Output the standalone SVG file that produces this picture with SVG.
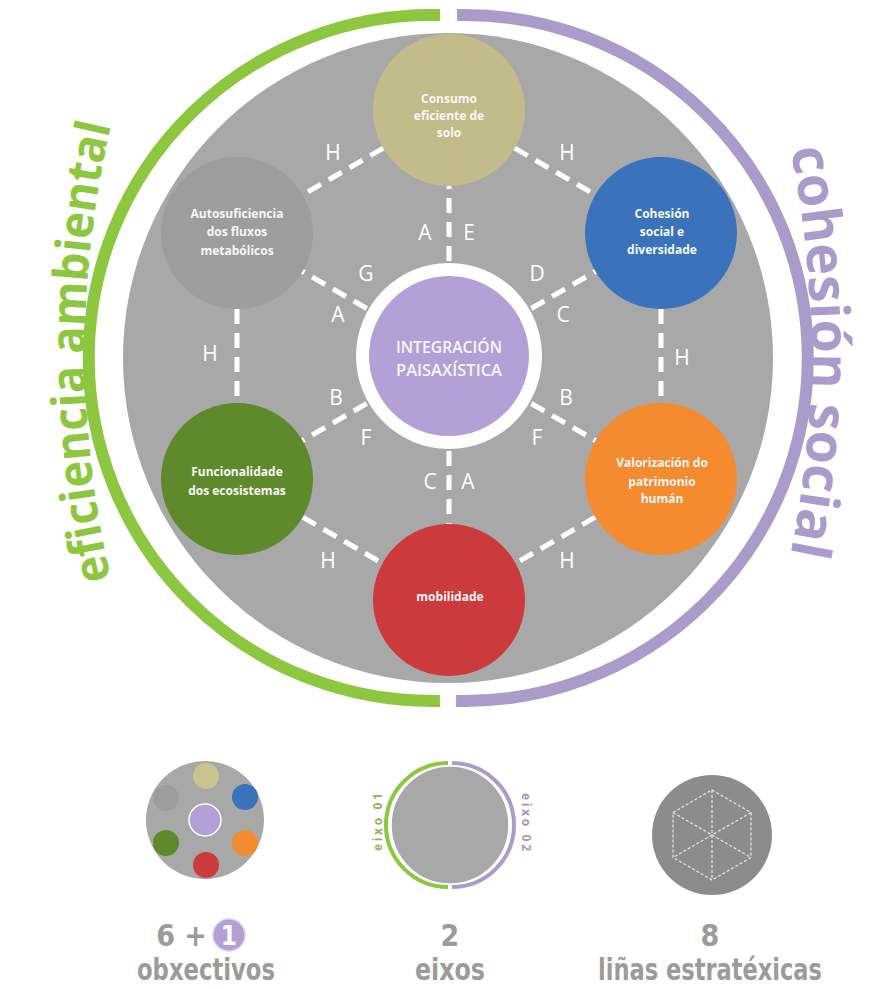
<svg xmlns="http://www.w3.org/2000/svg" xmlns:xlink="http://www.w3.org/1999/xlink" width="892" height="989" viewBox="0 0 892 989">
<style>
.dash{stroke:#ffffff;stroke-width:5;stroke-dasharray:15 9;fill:none}
.lbl{font-family:"Open Sans","DejaVu Sans",sans-serif;font-size:21px;fill:#ffffff;text-anchor:middle}
.nt{font-family:"Open Sans","DejaVu Sans",sans-serif;font-size:12px;font-weight:700;fill:#f7f7f7;text-anchor:middle}
.ct{font-family:"Open Sans","DejaVu Sans",sans-serif;font-size:16px;font-weight:600;fill:#f7f7f7;text-anchor:middle}
.big{font-family:"Liberation Sans Narrow","DejaVu Sans Condensed","Open Sans",sans-serif;font-size:30px;font-weight:700;fill:#9b9b9b;text-anchor:middle}
.ax{font-family:"Open Sans","DejaVu Sans",sans-serif;font-weight:700}
.mini{stroke:#e8e8e8;stroke-width:1.2;stroke-dasharray:3 2;fill:none}
</style>
<defs>
<path id="pl" d="M 145.6 694.9 A 1000 1000 0 0 1 145.6 9.1"/>
<path id="pr" d="M 750.4 9.1 A 1000 1000 0 0 1 750.4 694.9"/>
</defs>
<rect width="892" height="989" fill="#ffffff"/>

<g id="axes">
<path d="M 440 15.1 A 343 343 0 1 0 440 700.9" fill="none" stroke="#8dc63f" stroke-width="12"/>
<path d="M 457 15.1 A 343 343 0 1 1 456 700.9" fill="none" stroke="#a99ccb" stroke-width="12"/>
<text class="ax" font-size="48" fill="#8dc63f"><textPath xlink:href="#pl" href="#pl" startOffset="50%" text-anchor="middle" textLength="458" lengthAdjust="spacingAndGlyphs">eficiencia ambiental</textPath></text>
<text class="ax" font-size="54" fill="#a99ccb"><textPath xlink:href="#pr" href="#pr" startOffset="50%" text-anchor="middle" textLength="408" lengthAdjust="spacingAndGlyphs">cohesión social</textPath></text>
</g>

<circle id="base" cx="448" cy="358" r="325" fill="#a8a8a8"/>

<g id="connectors">
<line class="dash" x1="449" y1="261" x2="449" y2="186"/>
<line class="dash" x1="366.7" y1="308.5" x2="301.8" y2="271"/>
<line class="dash" x1="531.3" y1="308.5" x2="596.2" y2="271"/>
<line class="dash" x1="366.7" y1="403.5" x2="301.8" y2="441"/>
<line class="dash" x1="531.3" y1="403.5" x2="596.2" y2="441"/>
<line class="dash" x1="449" y1="451" x2="449" y2="526"/>
<line class="dash" x1="383.3" y1="148.2" x2="302.7" y2="194.8"/>
<line class="dash" x1="514.7" y1="148.2" x2="595.3" y2="194.8"/>
<line class="dash" x1="237" y1="309" x2="237" y2="403"/>
<line class="dash" x1="661" y1="309" x2="661" y2="403"/>
<line class="dash" x1="302.7" y1="517.2" x2="383.3" y2="563.8"/>
<line class="dash" x1="595.3" y1="517.2" x2="514.7" y2="563.8"/>
<text class="lbl" x="425" y="240">A</text>
<text class="lbl" x="469" y="240">E</text>
<text class="lbl" x="366" y="281">G</text>
<text class="lbl" x="338" y="322">A</text>
<text class="lbl" x="537" y="281">D</text>
<text class="lbl" x="563" y="322">C</text>
<text class="lbl" x="336" y="405">B</text>
<text class="lbl" x="366" y="445">F</text>
<text class="lbl" x="566" y="405">B</text>
<text class="lbl" x="537" y="445">F</text>
<text class="lbl" x="430" y="489">C</text>
<text class="lbl" x="468" y="489">A</text>
<text class="lbl" x="333" y="160">H</text>
<text class="lbl" x="567" y="160">H</text>
<text class="lbl" x="210" y="361">H</text>
<text class="lbl" x="682" y="365">H</text>
<text class="lbl" x="328" y="568">H</text>
<text class="lbl" x="567" y="568">H</text>
</g>

<g id="node-solo">
<circle cx="449" cy="110" r="76" fill="#c2bb8a"/>
<text class="nt" x="449" y="102.5">Consumo</text>
<text class="nt" x="449" y="119.5">eficiente de</text>
<text class="nt" x="449" y="136.5">solo</text>
</g>
<g id="node-fluxos">
<circle cx="237" cy="233" r="76" fill="#9d9d9d"/>
<text class="nt" x="237" y="217.5">Autosuficiencia</text>
<text class="nt" x="237" y="236">dos fluxos</text>
<text class="nt" x="237" y="254.5">metabólicos</text>
</g>
<g id="node-cohesion">
<circle cx="661" cy="233" r="76" fill="#3a72bb"/>
<text class="nt" x="662" y="217.5">Cohesión</text>
<text class="nt" x="662" y="236">social e</text>
<text class="nt" x="662" y="253.5">diversidade</text>
</g>
<g id="node-ecosistemas">
<circle cx="237" cy="479" r="76" fill="#5f8a2c"/>
<text class="nt" x="237" y="476">Funcionalidade</text>
<text class="nt" x="237" y="494.5">dos ecosistemas</text>
</g>
<g id="node-patrimonio">
<circle cx="661" cy="479" r="76" fill="#f48b2f"/>
<text class="nt" x="662" y="467">Valorización do</text>
<text class="nt" x="662" y="486">patrimonio</text>
<text class="nt" x="662" y="503">humán</text>
</g>
<g id="node-mobilidade">
<circle cx="449" cy="600" r="76" fill="#cc3a3c"/>
<text class="nt" x="450" y="601">mobilidade</text>
</g>
<g id="node-integracion">
<circle cx="449" cy="356" r="93" fill="#ffffff"/>
<circle cx="449" cy="356" r="80" fill="#b3a0d6"/>
<text class="ct" x="449" y="353" textLength="106" lengthAdjust="spacingAndGlyphs">INTEGRACIÓN</text>
<text class="ct" x="449" y="376" textLength="106" lengthAdjust="spacingAndGlyphs">PAISAXÍSTICA</text>
</g>

<g id="icon-obxectivos">
<circle cx="205" cy="820" r="59" fill="#a8a8a8"/>
<circle cx="206" cy="776" r="13" fill="#c9c48f"/>
<circle cx="166" cy="798" r="13" fill="#9d9d9d"/>
<circle cx="245" cy="797" r="13" fill="#3a72bb"/>
<circle cx="205" cy="820" r="16" fill="#b3a0d6" stroke="#ffffff" stroke-width="1.5"/>
<circle cx="166" cy="843" r="13" fill="#5f8a2c"/>
<circle cx="206" cy="865" r="13" fill="#cc3a3c"/>
<circle cx="245" cy="843" r="13" fill="#f48b2f"/>
</g>

<g id="icon-eixos">
<circle cx="450" cy="825" r="59" fill="#a8a8a8" stroke="#ffffff" stroke-width="1.5"/>
<path d="M 448 763 A 62 62 0 0 0 448 887" fill="none" stroke="#8dc63f" stroke-width="4"/>
<path d="M 452 763 A 62 62 0 0 1 452 887" fill="none" stroke="#a99ccb" stroke-width="4"/>
<text class="ax" font-size="12" fill="#8fb45e" text-anchor="middle" transform="translate(382 822) rotate(-90)" textLength="58" lengthAdjust="spacing">eixo 01</text>
<text class="ax" font-size="12" fill="#a096c2" text-anchor="middle" transform="translate(522 822) rotate(90)" textLength="58" lengthAdjust="spacing">eixo 02</text>
</g>

<g id="icon-linas">
<circle cx="712" cy="835" r="60" fill="#8c8c8c"/>
<polygon class="mini" points="712,790 751,812.5 751,857.5 712,880 673,857.5 673,812.5"/>
<line class="mini" x1="712" y1="790" x2="712" y2="880"/>
<line class="mini" x1="673" y1="812.5" x2="751" y2="857.5"/>
<line class="mini" x1="751" y1="812.5" x2="673" y2="857.5"/>
</g>

<g id="labels">
<text class="big" x="207" y="946" style="text-anchor:end">6 +</text>
<circle cx="229" cy="935" r="16" fill="#b3a0d6" stroke="#d9d0ea" stroke-width="1.5"/>
<text class="big" x="229" y="945" style="fill:#ffffff;font-size:26px">1</text>
<text class="big" x="206" y="980" textLength="138" lengthAdjust="spacingAndGlyphs">obxectivos</text>
<text class="big" x="450" y="946">2</text>
<text class="big" x="450" y="980" textLength="70" lengthAdjust="spacingAndGlyphs">eixos</text>
<text class="big" x="710" y="946">8</text>
<text class="big" x="710" y="980" textLength="224" lengthAdjust="spacingAndGlyphs">liñas estratéxicas</text>
</g>
</svg>
